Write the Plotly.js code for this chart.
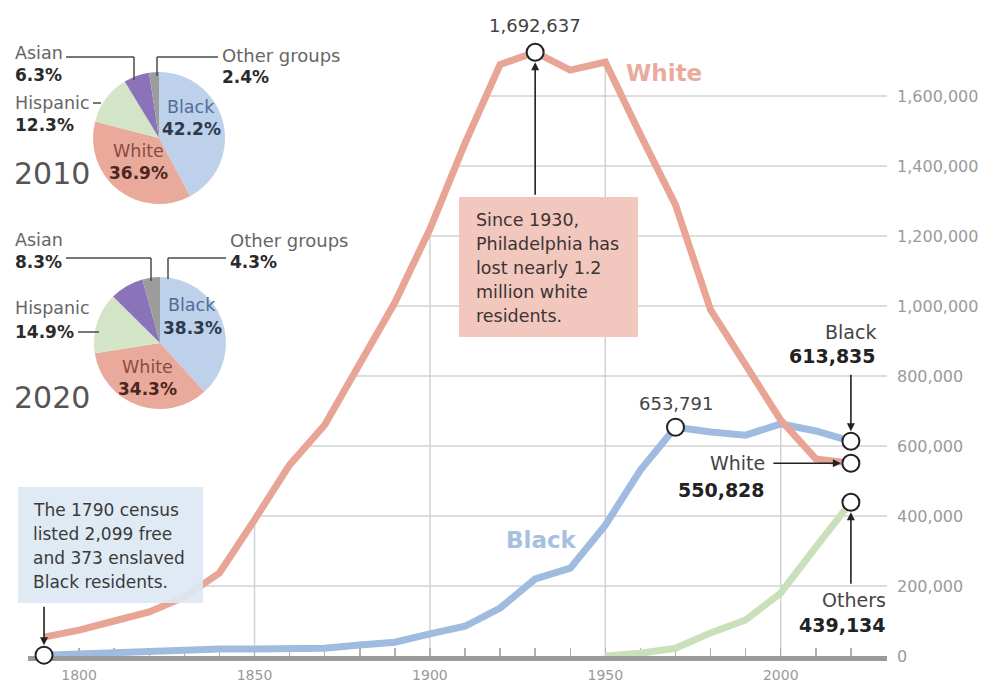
<!DOCTYPE html>
<html>
<head>
<meta charset="utf-8">
<script src="https://cdn.plot.ly/plotly-3.0.1.min.js"></script>
<style>
  html, body { margin: 0; padding: 0; background: #ffffff; }
  #chart { width: 995px; height: 682px; }
</style>
</head>
<body>
<div id="chart"></div>
<script>
// ---------------- DATA ----------------
const years = [1790, 1800, 1810, 1820, 1830, 1840, 1850, 1860, 1870, 1880, 1890, 1900,
               1910, 1920, 1930, 1940, 1950, 1960, 1970, 1980, 1990, 2000, 2010, 2020];
const whitePop = [54000, 74000, 100000, 126000, 169000, 237000, 389000, 546000, 660000, 835000,
                  1010000, 1220000, 1465000, 1690000, 1725000, 1674000, 1697000, 1489000, 1289000,
                  989000, 829000, 674000, 563000, 550828];
const blackPop = [2472, 6900, 10500, 10700, 15600, 19800, 19800, 22200, 22100, 31700, 39400,
                  63000, 85000, 137000, 220000, 251000, 374000, 531000, 653791, 640000, 631000,
                  663000, 643000, 613835];
const otherYears = [1950, 1960, 1970, 1980, 1990, 2000, 2010, 2020];
const otherPop = [0, 8000, 22000, 66000, 103000, 180000, 311000, 439134];

const pieLabels = ['Black', 'White', 'Hispanic', 'Asian', 'Other groups'];
const pie2010 = [42.2, 36.9, 12.3, 6.3, 2.4];
const pie2020 = [38.3, 34.3, 14.9, 8.3, 4.3];

const yTickVals = [0, 200000, 400000, 600000, 800000, 1000000, 1200000, 1400000, 1600000];
const xTickYears = [1800, 1810, 1820, 1830, 1840, 1850, 1860, 1870, 1880, 1890, 1900, 1910,
                    1920, 1930, 1940, 1950, 1960, 1970, 1980, 1990, 2000, 2010, 2020];
const xLabelYears = [1800, 1850, 1900, 1950, 2000];
const gridYears = [1850, 1900, 1950, 2000];

// peak / end-point labels
const whitePeakLabel = '1,692,637';
const blackPeakLabel = '653,791';
const blackEndLabel = '613,835';
const whiteEndLabel = '550,828';
const otherEndLabel = '439,134';

// ---------------- STYLE / LAYOUT HELPERS ----------------
const W = 995, H = 682;
const px = v => v / W;
const py = v => 1 - v / H;
const FONT = 'DejaVu Sans, Verdana, sans-serif';

const C_WHITE = '#e8a596';
const C_BLACK = '#9fbbdf';
const C_OTHER = '#c9e0bb';
const C_GRID = '#d2d2d2';

const X0 = 1785.43, X1 = 2030.29;
const YMAX = 1874286;

function idx(y) { return years.indexOf(y); }

// where the (rising) white line first crosses a value
function whiteCrossYear(v) {
  for (let i = 1; i < years.length; i++) {
    if (whitePop[i] >= v && whitePop[i - 1] < v) {
      const t = (v - whitePop[i - 1]) / (whitePop[i] - whitePop[i - 1]);
      return years[i - 1] + t * (years[i] - years[i - 1]);
    }
  }
  return X0;
}

const shapes = [];
// horizontal grid lines, starting at the white line
yTickVals.slice(1).forEach(v => {
  shapes.push({type: 'line', xref: 'x', yref: 'y', x0: whiteCrossYear(v), x1: X1, y0: v, y1: v,
               line: {color: C_GRID, width: 1.5}, layer: 'below'});
});
// vertical grid lines, rising to the white line
gridYears.forEach(yr => {
  shapes.push({type: 'line', xref: 'x', yref: 'y', x0: yr, x1: yr, y0: 0, y1: whitePop[idx(yr)],
               line: {color: C_GRID, width: 1.5}, layer: 'below'});
});
// note boxes
shapes.push({type: 'rect', xref: 'paper', yref: 'paper', x0: px(18), x1: px(203), y0: py(603), y1: py(487),
             fillcolor: '#dde8f3', opacity: 0.92, line: {width: 0}, layer: 'above'});
shapes.push({type: 'rect', xref: 'paper', yref: 'paper', x0: px(459), x1: px(638), y0: py(337), y1: py(197),
             fillcolor: '#f1c7be', line: {width: 0}, layer: 'above'});
// pie connector lines
function pline(pts) {
  for (let i = 1; i < pts.length; i++) {
    shapes.push({type: 'line', xref: 'paper', yref: 'paper',
                 x0: px(pts[i - 1][0]), y0: py(pts[i - 1][1]), x1: px(pts[i][0]), y1: py(pts[i][1]),
                 line: {color: '#4a4a4a', width: 1.5}, layer: 'above'});
  }
}
pline([[66, 57], [134, 57], [134, 80]]);
pline([[218, 57], [157, 57], [157, 76]]);
pline([[93, 103], [101, 103]]);
pline([[66, 258], [151, 258], [151, 281]]);
pline([[226, 258], [168, 258], [168, 279]]);
pline([[78, 332], [99, 332]]);

// ---------------- ANNOTATIONS ----------------
const ann = [];
function txt(x, y, text, size, color, anchor, extra) {
  ann.push(Object.assign({xref: 'paper', yref: 'paper', x: px(x), y: py(y), text: text, showarrow: false,
    xanchor: anchor || 'left', yanchor: 'middle', font: {family: FONT, size: size, color: color}}, extra || {}));
}
const GREY_T = '#666666', DARK_T = '#2b2b2b';
// 2010 pie labels
txt(13, 53, 'Asian', 17.5, GREY_T);
txt(13, 75, '<b>6.3%</b>', 17, DARK_T);
txt(13, 103, 'Hispanic', 17.5, GREY_T);
txt(13, 125, '<b>12.3%</b>', 17, DARK_T);
txt(220, 55, 'Other groups', 18, GREY_T);
txt(220, 77, '<b>2.4%</b>', 17, DARK_T);
txt(12, 173, '2010', 30, '#555555');
txt(191, 107, 'Black', 17.5, '#4f6d98', 'center');
txt(191, 129, '<b>42.2%</b>', 17, '#2d3a4d', 'center');
txt(138, 151, 'White', 17.5, '#8b4c42', 'center');
txt(138, 173, '<b>36.9%</b>', 17, '#4d2620', 'center');
// 2020 pie labels
txt(13, 240, 'Asian', 17.5, GREY_T);
txt(13, 262, '<b>8.3%</b>', 17, DARK_T);
txt(13, 308, 'Hispanic', 17.5, GREY_T);
txt(13, 332, '<b>14.9%</b>', 17, DARK_T);
txt(228, 240, 'Other groups', 18, GREY_T);
txt(228, 262, '<b>4.3%</b>', 17, DARK_T);
txt(12, 397, '2020', 30, '#555555');
txt(192, 305, 'Black', 17.5, '#4f6d98', 'center');
txt(192, 328, '<b>38.3%</b>', 17, '#2d3a4d', 'center');
txt(147, 367, 'White', 17.5, '#8b4c42', 'center');
txt(147, 389, '<b>34.3%</b>', 17, '#4d2620', 'center');

// note box texts
['The 1790 census', 'listed 2,099 free', 'and 373 enslaved', 'Black residents.'].forEach((s, i) =>
  txt(31, 510 + i * 24, s, 17, '#3a3a3a'));
['Since 1930,', 'Philadelphia has', 'lost nearly 1.2', 'million white', 'residents.'].forEach((s, i) =>
  txt(474, 220 + i * 24, s, 17.5, '#3d3434'));

// series labels
txt(624, 73, '<b>White</b>', 23, '#e9ab9e');
txt(541, 540, '<b>Black</b>', 23, '#a6c0e2', 'center');

// end labels
txt(878, 332, 'Black', 19, '#444444', 'right');
txt(878, 356, '<b>' + blackEndLabel + '</b>', 19, '#222222', 'right');
txt(767, 463, 'White', 19, '#444444', 'right');
txt(767, 490, '<b>' + whiteEndLabel + '</b>', 19, '#222222', 'right');
txt(888, 600, 'Others', 19, '#444444', 'right');
txt(888, 625, '<b>' + otherEndLabel + '</b>', 19, '#222222', 'right');

// peak labels tied to data points
ann.push({xref: 'x', yref: 'y', x: 1930, y: whitePop[idx(1930)], text: whitePeakLabel, showarrow: false,
          xanchor: 'center', yanchor: 'bottom', yshift: 14, font: {family: FONT, size: 18, color: '#444444'}});
ann.push({xref: 'x', yref: 'y', x: 1970, y: blackPop[idx(1970)], text: blackPeakLabel, showarrow: false,
          xanchor: 'center', yanchor: 'bottom', yshift: 11, font: {family: FONT, size: 18, color: '#444444'}});

// arrows
function arrow(x, y, ax, ay) {
  ann.push({xref: 'x', yref: 'y', x: x, y: y, ax: ax, ay: ay, text: '', showarrow: true,
            arrowhead: 2, arrowsize: 1, arrowwidth: 1.6, arrowcolor: '#222222', standoff: 10});
}
arrow(1790, blackPop[idx(1790)], 0, -50);
arrow(1930, whitePop[idx(1930)], 0, 144);
arrow(2020, blackPop[idx(2020)], 0, -68);
arrow(2020, whitePop[idx(2020)], -79, 0);
arrow(2020, otherPop[otherPop.length - 1], 0, 83);

// ---------------- TRACES ----------------
const pieColors = ['#bed1ea', '#e9aa9c', '#d3e5c6', '#8a73b9', '#9c9c9c'];
const traces = [
  {type: 'scatter', mode: 'lines', x: otherYears, y: otherPop, line: {color: C_OTHER, width: 7},
   hoverinfo: 'skip', showlegend: false},
  {type: 'scatter', mode: 'lines', x: years, y: blackPop, line: {color: C_BLACK, width: 7},
   hoverinfo: 'skip', showlegend: false},
  {type: 'scatter', mode: 'lines', x: years, y: whitePop, line: {color: C_WHITE, width: 7},
   hoverinfo: 'skip', showlegend: false},
  {type: 'scatter', mode: 'markers',
   x: [1790, 1930, 1970, 2020, 2020, 2020],
   y: [blackPop[idx(1790)], whitePop[idx(1930)], blackPop[idx(1970)], blackPop[idx(2020)],
       whitePop[idx(2020)], otherPop[otherPop.length - 1]],
   marker: {size: 17, color: '#ffffff', line: {color: '#222222', width: 2}},
   cliponaxis: false, hoverinfo: 'skip', showlegend: false},
  {type: 'pie', labels: pieLabels, values: pie2010, sort: false, direction: 'clockwise', rotation: 0,
   textinfo: 'none', hoverinfo: 'skip', showlegend: false,
   marker: {colors: pieColors, line: {width: 0}},
   domain: {x: [px(93), px(225)], y: [py(204), py(72)]}},
  {type: 'pie', labels: pieLabels, values: pie2020, sort: false, direction: 'clockwise', rotation: 0,
   textinfo: 'none', hoverinfo: 'skip', showlegend: false,
   marker: {colors: pieColors, line: {width: 0}},
   domain: {x: [px(94), px(226)], y: [py(409), py(277)]}}
];

const layout = {
  width: W, height: H,
  margin: {l: 0, r: 0, t: 0, b: 0},
  paper_bgcolor: '#ffffff', plot_bgcolor: 'rgba(0,0,0,0)',
  showlegend: false,
  font: {family: FONT},
  xaxis: {
    domain: [px(28), px(887)], range: [X0, X1], fixedrange: true,
    showgrid: false, zeroline: false,
    showline: true, linecolor: '#9a9a9a', linewidth: 5, layer: 'below traces',
    ticks: 'inside', ticklen: 8, tickwidth: 1.5, tickcolor: '#b0b0b0',
    tickvals: xTickYears,
    ticktext: xTickYears.map(y => xLabelYears.includes(y) ? String(y) : ''),
    ticklabelstandoff: 2,
    tickfont: {family: FONT, size: 14, color: '#9a9a9a'}
  },
  yaxis: {
    domain: [1 - 656 / H, 1], range: [0, YMAX], fixedrange: true,
    side: 'right', showgrid: false, zeroline: false, showline: false, ticks: '',
    tickvals: yTickVals,
    ticktext: yTickVals.map(v => v.toLocaleString('en-US')),
    ticklabelstandoff: 9,
    tickfont: {family: FONT, size: 16, color: '#9a9a9a'}
  },
  shapes: shapes,
  annotations: ann
};

Plotly.newPlot('chart', traces, layout, {staticPlot: true, displayModeBar: false});
</script>
</body>
</html>
